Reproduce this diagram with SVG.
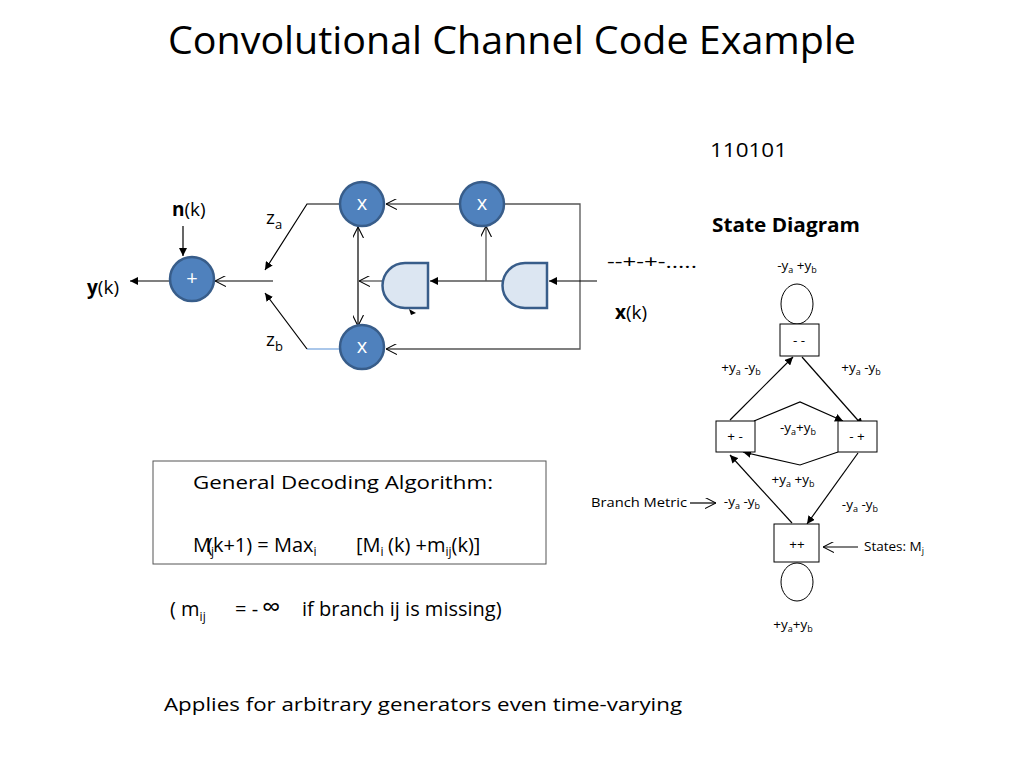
<svg xmlns="http://www.w3.org/2000/svg" width="1024" height="768" viewBox="0 0 1024 768">
<style>
text{font-family:"Open Sans","Liberation Sans",sans-serif;fill:#000}
.op{fill:#4f81bd;stroke:#385d8a;stroke-width:2.5}
.opt{fill:#fff;font-size:20px;text-anchor:middle}
.gate{fill:#dce6f2;stroke:#385d8a;stroke-width:2.5}
.w{stroke:#555;stroke-width:1.3;fill:none}
.k{stroke:#000;stroke-width:1.2;fill:none}
.box{fill:#fff;stroke:#000;stroke-width:1}
.s{font-size:13.5px}
</style>
<defs>
<marker id="f" viewBox="0 0 10 10" refX="10" refY="5" markerWidth="8" markerHeight="8" orient="auto" markerUnits="userSpaceOnUse"><path d="M0,0L10,5L0,10z" fill="#000"/></marker>
<marker id="o" viewBox="0 0 10 10" refX="10" refY="5" markerWidth="11" markerHeight="11" orient="auto" markerUnits="userSpaceOnUse"><path d="M0,0L10,5L0,10" fill="none" stroke="#000" stroke-width="1"/></marker>
</defs>
<text x="168" y="54" font-size="39" textLength="688" lengthAdjust="spacingAndGlyphs">Convolutional Channel Code Example</text>
<g id="connectors">
<path class="w" d="M460,204H386" marker-end="url(#o)"/>
<path class="w" d="M504,204H580V349H386" marker-end="url(#o)"/>
<path class="k" d="M597,281H549" marker-end="url(#f)"/>
<path class="k" d="M503,281H430" marker-end="url(#f)"/>
<path class="w" d="M486,281V226" marker-end="url(#o)"/>
<path class="w" d="M383,281H359" marker-end="url(#o)"/>
<path class="k" d="M358,281V227" marker-end="url(#o)"/>
<path class="k" d="M358,281V326" marker-end="url(#o)"/>
<path class="w" d="M273,281H215" marker-end="url(#o)"/>
<path class="k" d="M340,204H307L265,270" marker-end="url(#f)"/>
<path d="M340,349H307" stroke="#8eb4e3" stroke-width="1.3"/>
<path class="k" d="M307,349L265,293" marker-end="url(#f)"/>
<path class="k" d="M183,226V256" marker-end="url(#f)"/>
<path class="k" d="M170,281H130" marker-end="url(#f)"/>
<path d="M409,309L416,313L411,315z" fill="#000"/>
<path class="k" d="M730,420L793,357" marker-end="url(#f)"/>
<path class="k" d="M802,357L863,426" marker-end="url(#f)"/>
<path class="k" d="M754,421L800,402L843,421" marker-end="url(#f)"/>
<path class="k" d="M838,452L800,465L743,452" marker-end="url(#f)"/>
<path class="k" d="M792,523L730,455" marker-end="url(#f)"/>
<path class="k" d="M858,453L807,524" marker-end="url(#f)"/>
<path class="k" d="M690,503H716" marker-end="url(#o)"/>
<path class="k" d="M858,547H823" marker-end="url(#o)"/>
</g>
<g id="mulA"><circle class="op" cx="362" cy="204" r="22"/><text class="opt" x="362" y="210">x</text></g>
<g id="mulB"><circle class="op" cx="482" cy="204" r="22"/><text class="opt" x="482" y="210">x</text></g>
<g id="mulC"><circle class="op" cx="362" cy="347" r="22"/><text class="opt" x="362" y="353">x</text></g>
<g id="adder"><circle class="op" cx="192" cy="279" r="22"/><text class="opt" x="192" y="285">+</text></g>
<g id="gate1"><path class="gate" d="M428,263V308H405A22.5,22.5 0 0 1 405,263Z"/></g>
<g id="gate2"><path class="gate" d="M547,263V308H525A22.5,22.5 0 0 1 525,263Z"/></g>
<g id="labels">
<text x="172" y="216" font-size="19"><tspan font-weight="bold">n</tspan>(k)</text>
<text x="87" y="294" font-size="19"><tspan font-weight="bold">y</tspan>(k)</text>
<text x="266" y="224" font-size="19">z<tspan font-size="13" dy="5">a</tspan></text>
<text x="266" y="346" font-size="19">z<tspan font-size="13" dy="5">b</tspan></text>
<text x="607" y="268" font-size="18" textLength="90" lengthAdjust="spacingAndGlyphs">--+-+-.....</text>
<text x="615" y="319" font-size="19"><tspan font-weight="bold">x</tspan>(k)</text>
<text x="710" y="157" font-size="20" textLength="77" lengthAdjust="spacingAndGlyphs">110101</text>
<text x="712" y="232" font-size="19" font-weight="bold" textLength="148" lengthAdjust="spacingAndGlyphs">State Diagram</text>
</g>
<g id="s_mm"><ellipse cx="797" cy="304" rx="16" ry="20" fill="none" stroke="#000"/><rect class="box" x="780" y="324" width="39" height="32"/><text class="s" x="799" y="345" text-anchor="middle">- -</text></g>
<g id="s_pm"><rect class="box" x="716" y="421" width="39" height="31"/><text class="s" x="735" y="441" text-anchor="middle">+ -</text></g>
<g id="s_mp"><rect class="box" x="838" y="421" width="39" height="31"/><text class="s" x="857" y="441" text-anchor="middle">- +</text></g>
<g id="s_pp"><ellipse cx="797" cy="582" rx="16" ry="19" fill="none" stroke="#000"/><rect class="box" x="774" y="524" width="45" height="38" /><text class="s" x="797" y="549" text-anchor="middle">++</text></g>
<g id="metrics">
<text class="s" x="797" y="270" text-anchor="middle">-y<tspan font-size="9" dy="3">a</tspan><tspan dy="-3"> +y</tspan><tspan font-size="9" dy="3">b</tspan></text>
<text class="s" x="741" y="372" text-anchor="middle">+y<tspan font-size="9" dy="3">a</tspan><tspan dy="-3"> -y</tspan><tspan font-size="9" dy="3">b</tspan></text>
<text class="s" x="861" y="372" text-anchor="middle">+y<tspan font-size="9" dy="3">a</tspan><tspan dy="-3"> -y</tspan><tspan font-size="9" dy="3">b</tspan></text>
<text class="s" x="798" y="432" text-anchor="middle">-y<tspan font-size="9" dy="3">a</tspan><tspan dy="-3">+y</tspan><tspan font-size="9" dy="3">b</tspan></text>
<text class="s" x="793" y="484" text-anchor="middle">+y<tspan font-size="9" dy="3">a</tspan><tspan dy="-3"> +y</tspan><tspan font-size="9" dy="3">b</tspan></text>
<text class="s" x="742" y="506" text-anchor="middle">-y<tspan font-size="9" dy="3">a</tspan><tspan dy="-3"> -y</tspan><tspan font-size="9" dy="3">b</tspan></text>
<text class="s" x="860" y="509" text-anchor="middle">-y<tspan font-size="9" dy="3">a</tspan><tspan dy="-3"> -y</tspan><tspan font-size="9" dy="3">b</tspan></text>
<text class="s" x="793" y="629" text-anchor="middle">+y<tspan font-size="9" dy="3">a</tspan><tspan dy="-3">+y</tspan><tspan font-size="9" dy="3">b</tspan></text>
<text class="s" x="591" y="507" textLength="96" lengthAdjust="spacingAndGlyphs">Branch Metric</text>
<text class="s" x="864" y="551">States: M<tspan font-size="9" dy="3">j</tspan></text>
</g>
<g id="algo">
<rect x="153" y="461" width="393" height="103" fill="#fff" stroke="#555"/>
<text x="193" y="489" font-size="19" textLength="300" lengthAdjust="spacingAndGlyphs">General Decoding Algorithm:</text>
<text x="193" y="552" font-size="20">M<tspan font-size="12" dy="4">j</tspan><tspan dy="-4" x="207">(k+1) = Max</tspan><tspan font-size="12" dy="4">i</tspan><tspan dy="-4" x="356">[M</tspan><tspan font-size="12" dy="4">i</tspan><tspan dy="-4" x="388">(k) +m</tspan><tspan font-size="12" dy="4">ij</tspan><tspan dy="-4">(k)]</tspan></text>
</g>
<text x="170" y="616" font-size="20">( m<tspan font-size="12" dy="5">ij</tspan><tspan dy="-5" x="235">= -</tspan><tspan font-size="26" x="262">∞</tspan><tspan x="302">if branch ij is missing)</tspan></text>
<text x="164" y="711" font-size="19" textLength="518" lengthAdjust="spacingAndGlyphs">Applies for arbitrary generators even time-varying</text>
</svg>
